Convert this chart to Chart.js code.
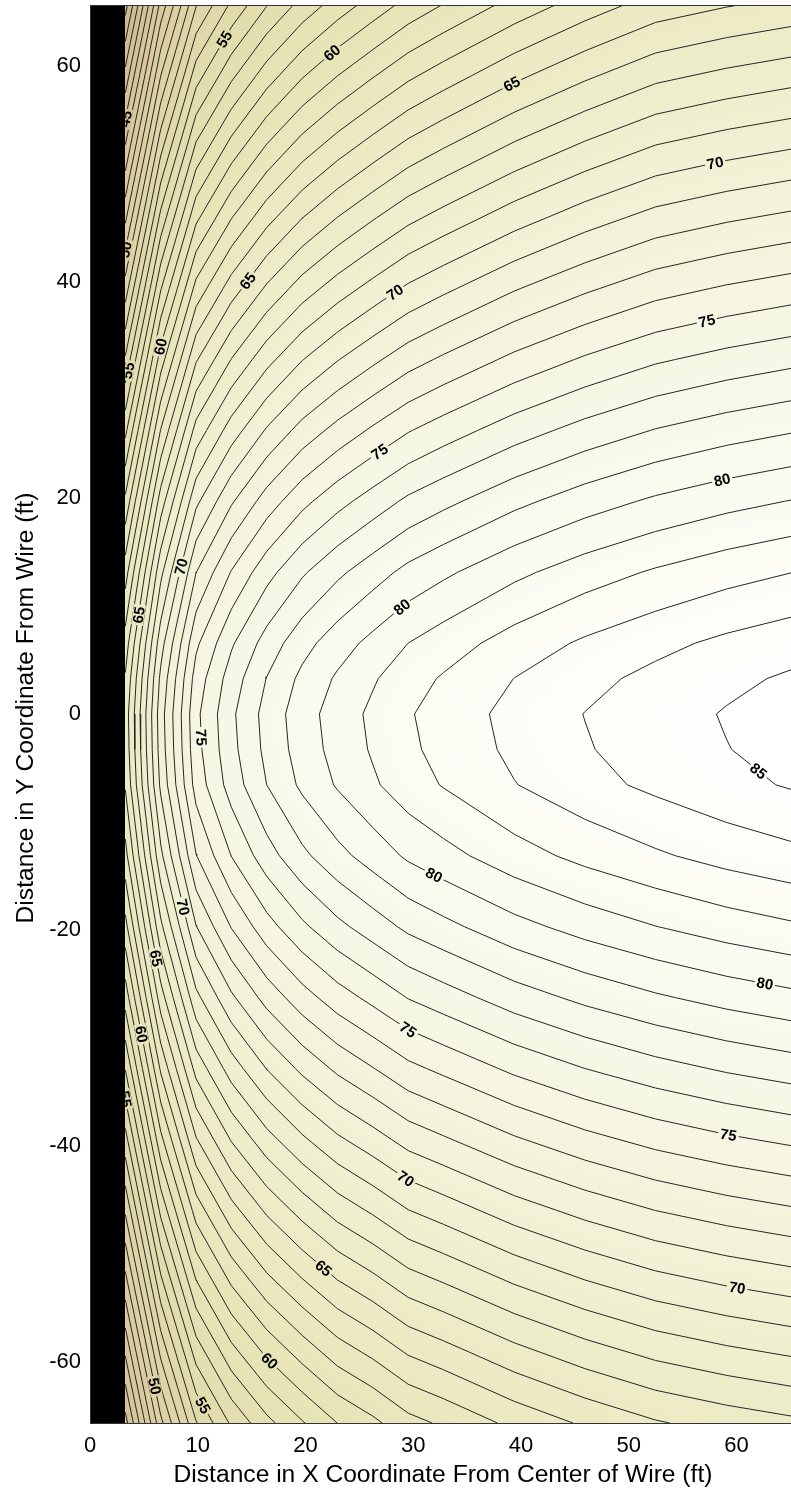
<!DOCTYPE html>
<html>
<head>
<meta charset="utf-8">
<title>Field level around the wire</title>
<script src="https://cdn.jsdelivr.net/npm/chart.js@4.4.1/dist/chart.umd.min.js"></script>
<style>
  html, body { margin: 0; padding: 0; background: #ffffff; overflow: hidden; }
  #box { position: relative; width: 800px; height: 1492px; }
</style>
</head>
<body>
<div id="box"><canvas id="plot" width="800" height="1492"></canvas></div>
<script>
// Grid node positions (ft)
const gridX = [3.28, 6.56, 9.84, 13.12, 16.40, 19.69, 22.97, 26.25, 29.53, 32.81, 39.37, 45.93, 52.49, 59.06, 65.62];
const gridY = [-65.62, -59.06, -52.49, -45.93, -39.37, -32.81, -26.25, -19.69, -13.12, -6.56, -3.28, 0,
               3.28, 6.56, 13.12, 19.69, 26.25, 32.81, 39.37, 45.93, 52.49, 59.06, 65.62];

// Level at each node, one row per gridY entry (bottom row first)
const fieldRows = [
  [43.62, 49.72, 53.92, 56.16, 57.71, 58.91, 60.01, 60.76, 61.66, 62.16, 63.26, 64.15, 64.90, 65.40, 65.80],
  [46.14, 52.24, 56.44, 58.66, 60.21, 61.41, 62.49, 63.24, 64.11, 64.61, 65.68, 66.56, 67.28, 67.78, 68.18],
  [48.66, 54.76, 58.96, 61.16, 62.71, 63.91, 64.96, 65.71, 66.56, 67.06, 68.11, 68.96, 69.66, 70.16, 70.56],
  [51.15, 57.25, 61.45, 63.63, 65.18, 66.38, 67.41, 68.16, 68.98, 69.48, 70.51, 71.33, 72.01, 72.51, 72.91],
  [53.62, 59.72, 63.92, 66.08, 67.63, 68.83, 69.83, 70.58, 71.38, 71.88, 72.88, 73.69, 74.34, 74.84, 75.24],
  [56.05, 62.15, 66.35, 68.48, 70.03, 71.23, 72.21, 72.96, 73.74, 74.24, 75.22, 76.00, 76.63, 77.13, 77.53],
  [58.42, 64.52, 68.72, 70.82, 72.37, 73.57, 74.53, 75.28, 76.04, 76.54, 77.50, 78.25, 78.86, 79.36, 79.76],
  [60.66, 66.76, 70.96, 73.05, 74.60, 75.80, 76.74, 77.49, 78.22, 78.72, 79.66, 80.39, 80.98, 81.48, 81.88],
  [62.66, 68.76, 72.96, 75.02, 76.57, 77.77, 78.69, 79.44, 80.16, 80.66, 81.58, 82.29, 82.86, 83.36, 83.76],
  [64.10, 70.20, 74.40, 76.45, 78.00, 79.20, 80.10, 80.85, 81.56, 82.06, 82.96, 83.67, 84.22, 84.72, 85.12],
  [64.36, 70.46, 74.66, 76.71, 78.26, 79.46, 80.36, 81.11, 81.81, 82.31, 83.22, 83.92, 84.47, 84.97, 85.37],
  [64.46, 70.56, 74.76, 76.81, 78.36, 79.56, 80.46, 81.21, 81.91, 82.41, 83.32, 84.02, 84.57, 85.07, 85.47],
  [64.11, 70.22, 74.43, 76.48, 78.03, 79.24, 80.14, 80.89, 81.60, 82.10, 83.01, 83.71, 84.27, 84.77, 85.17],
  [63.45, 69.58, 73.80, 75.86, 77.42, 78.63, 79.54, 80.29, 81.00, 81.51, 82.43, 83.15, 83.72, 84.22, 84.62],
  [61.56, 67.73, 71.98, 74.06, 75.64, 76.86, 77.79, 78.56, 79.29, 79.81, 80.76, 81.52, 82.12, 82.62, 83.02],
  [59.24, 65.48, 69.77, 71.87, 73.46, 74.71, 75.66, 76.45, 77.20, 77.74, 78.73, 79.53, 80.17, 80.67, 81.07],
  [56.74, 63.04, 67.37, 69.49, 71.11, 72.38, 73.34, 74.16, 74.93, 75.50, 76.53, 77.37, 78.05, 78.55, 78.95],
  [54.14, 60.51, 64.89, 67.03, 68.67, 69.96, 70.95, 71.79, 72.58, 73.17, 74.25, 75.13, 75.86, 76.36, 76.76],
  [51.48, 57.92, 62.35, 64.51, 66.17, 67.49, 68.50, 69.36, 70.18, 70.79, 71.92, 72.84, 73.62, 74.12, 74.52],
  [48.79, 55.30, 59.77, 61.96, 63.65, 64.98, 66.02, 66.91, 67.74, 68.38, 69.55, 70.53, 71.35, 71.85, 72.25],
  [46.08, 52.66, 57.18, 59.39, 61.10, 62.46, 63.52, 64.43, 65.29, 65.95, 67.17, 68.19, 69.06, 69.56, 69.96],
  [43.34, 49.99, 54.56, 56.79, 58.53, 59.91, 61.00, 61.93, 62.81, 63.50, 64.77, 65.83, 66.75, 67.25, 67.65],
  [40.59, 47.32, 51.93, 54.19, 55.95, 57.35, 58.46, 59.42, 60.33, 61.04, 62.35, 63.47, 64.43, 64.93, 65.33]
];

// Contour levels (1 dB apart)
const contourLevels = [40, 41, 42, 43, 44, 45, 46, 47, 48, 49, 50, 51, 52, 53, 54, 55, 56, 57, 58, 59, 60,
  61, 62, 63, 64, 65, 66, 67, 68, 69, 70, 71, 72, 73, 74, 75, 76, 77, 78, 79, 80, 81, 82, 83, 84, 85, 86];

// Inline contour labels: level and approximate place
const labelLevel = [55, 60, 65, 70, 45, 50, 55, 60, 65, 70, 75, 75, 80, 70, 80, 65, 75, 85,
                    80, 70, 65, 80, 75, 60, 55, 75, 70, 65, 70, 60, 50, 55];
const labelX = [12.2, 21.5, 39.1, 57.8, 3.7, 3.7, 4.0, 7.6, 16.2, 29.2, 57.5, 27.8, 58.9, 8.97, 29.2, 4.33, 9.58, 62.2,
                32.2, 8.97, 6.18, 62.9, 29.2, 4.95, 3.4, 59.4, 30.4, 22.7, 59.8, 17.3, 5.57, 10.97];
const labelY = [62.6, 62.3, 58.4, 52.0, 39.0, 34.0, 31.7, 33.8, 38.9, 37.7, 35.3, 22.9, 20.7, 13.5, 9.6, 9.2, -2.2, -5.1,
                -14.4, -17.8, -22.6, -23.6, -29.8, -29.6, -32.8, -38.1, -41.4, -50.1, -54.7, -59.2, -62.3, -63.7];

// Axis ticks
const xTicks = [0, 10, 20, 30, 40, 50, 60];
const yTicks = [-60, -40, -20, 0, 20, 40, 60];

// Colour ramp: level -> rgb
const rampLevel = [40, 45, 50, 55, 60, 65, 70, 75, 80, 84, 86];
const rampR = [205, 214, 221, 226, 231, 236, 241, 246, 250, 254, 255];
const rampG = [182, 196, 209, 220, 229, 235, 241, 246, 250, 254, 255];
const rampB = [140, 152, 163, 172, 183, 197, 212, 227, 239, 250, 255];

function rampColor(v) {
  const n = rampLevel.length;
  if (v <= rampLevel[0]) return [rampR[0], rampG[0], rampB[0]];
  if (v >= rampLevel[n - 1]) return [rampR[n - 1], rampG[n - 1], rampB[n - 1]];
  let k = 0;
  while (v > rampLevel[k + 1]) k++;
  const t = (v - rampLevel[k]) / (rampLevel[k + 1] - rampLevel[k]);
  return [rampR[k] + t * (rampR[k + 1] - rampR[k]),
          rampG[k] + t * (rampG[k + 1] - rampG[k]),
          rampB[k] + t * (rampB[k + 1] - rampB[k])];
}

function locate(arr, v) {
  if (v <= arr[0]) return { i: 0, t: 0 };
  const n = arr.length;
  if (v >= arr[n - 1]) return { i: n - 2, t: 1 };
  let i = 0;
  while (v > arr[i + 1]) i++;
  return { i, t: (v - arr[i]) / (arr[i + 1] - arr[i]) };
}

function fieldAt(x, y) {
  const a = locate(gridX, x), b = locate(gridY, y);
  const z00 = fieldRows[b.i][a.i], z10 = fieldRows[b.i][a.i + 1];
  const z01 = fieldRows[b.i + 1][a.i], z11 = fieldRows[b.i + 1][a.i + 1];
  return (z00 * (1 - a.t) + z10 * a.t) * (1 - b.t) + (z01 * (1 - a.t) + z11 * a.t) * b.t;
}

// Marching squares on the rectilinear grid, segments chained into polylines
function traceLevel(level) {
  const nx = gridX.length, ny = gridY.length;
  const segs = [];
  for (let j = 0; j < ny - 1; j++) {
    for (let i = 0; i < nx - 1; i++) {
      const z00 = fieldRows[j][i], z10 = fieldRows[j][i + 1];
      const z01 = fieldRows[j + 1][i], z11 = fieldRows[j + 1][i + 1];
      const x0 = gridX[i], x1 = gridX[i + 1], y0 = gridY[j], y1 = gridY[j + 1];
      const hits = [];
      const cross = (za, zb, xa, ya, xb, yb, key) => {
        if ((za < level) !== (zb < level)) {
          const t = (level - za) / (zb - za);
          hits.push({ key, x: xa + t * (xb - xa), y: ya + t * (yb - ya) });
        }
      };
      cross(z00, z10, x0, y0, x1, y0, 'h' + j + '_' + i);
      cross(z10, z11, x1, y0, x1, y1, 'v' + j + '_' + (i + 1));
      cross(z01, z11, x0, y1, x1, y1, 'h' + (j + 1) + '_' + i);
      cross(z00, z01, x0, y0, x0, y1, 'v' + j + '_' + i);
      if (hits.length === 2) segs.push([hits[0], hits[1]]);
      else if (hits.length === 4) {
        const c = (z00 + z10 + z01 + z11) / 4;
        if ((c < level) === (z00 < level)) { segs.push([hits[0], hits[1]]); segs.push([hits[2], hits[3]]); }
        else { segs.push([hits[0], hits[3]]); segs.push([hits[1], hits[2]]); }
      }
    }
  }
  const byKey = {};
  segs.forEach((s, n) => s.forEach(p => { (byKey[p.key] = byKey[p.key] || []).push(n); }));
  const used = new Array(segs.length).fill(false);
  const lines = [];
  const extend = (arr) => {
    for (;;) {
      const last = arr[arr.length - 1];
      const cand = (byKey[last.key] || []).find(m => !used[m]);
      if (cand === undefined) break;
      used[cand] = true;
      const s = segs[cand];
      arr.push(s[0].key === last.key ? s[1] : s[0]);
    }
  };
  for (let n = 0; n < segs.length; n++) {
    if (used[n]) continue;
    used[n] = true;
    const line = [segs[n][0], segs[n][1]];
    extend(line);
    line.reverse();
    extend(line);
    lines.push(line);
  }
  return lines;
}

const contourLines = {};
const datasets = [];
contourLevels.forEach(level => {
  const lines = traceLevel(level);
  contourLines[level] = lines;
  lines.forEach(line => {
    datasets.push({
      label: String(level),
      data: line.map(p => ({ x: p.x, y: p.y })),
      showLine: true,
      borderColor: '#262626',
      borderWidth: 1,
      pointRadius: 0,
      tension: 0,
      fill: false
    });
  });
});

const FONT = '"Liberation Sans", Arial, Helvetica, sans-serif';

// Filled field under the contour lines; the strip next to the wire stays black
const fieldFill = {
  id: 'fieldFill',
  beforeDatasetsDraw(chart) {
    const { ctx, chartArea: a, scales } = chart;
    const sx = scales.x, sy = scales.y;
    const left = Math.round(a.left), top = Math.round(a.top);
    const w = Math.round(a.right) - left, h = Math.round(a.bottom) - top;
    const img = ctx.createImageData(w, h);
    const xs = [];
    for (let px = 0; px < w; px++) xs.push(sx.getValueForPixel(left + px + 0.5));
    for (let py = 0; py < h; py++) {
      const yv = sy.getValueForPixel(top + py + 0.5);
      for (let px = 0; px < w; px++) {
        const o = (py * w + px) * 4;
        const xv = xs[px];
        if (xv < gridX[0]) {
          img.data[o] = 0; img.data[o + 1] = 0; img.data[o + 2] = 0; img.data[o + 3] = 255;
          continue;
        }
        const c = rampColor(fieldAt(xv, yv));
        img.data[o] = c[0]; img.data[o + 1] = c[1]; img.data[o + 2] = c[2]; img.data[o + 3] = 255;
      }
    }
    ctx.putImageData(img, left, top);
  }
};

// Inline level labels, set on their contour and turned along it
const contourLabels = {
  id: 'contourLabels',
  afterDatasetsDraw(chart) {
    const { ctx, chartArea: a, scales } = chart;
    const sx = scales.x, sy = scales.y;
    const wireEdge = sx.getPixelForValue(gridX[0]);
    ctx.save();
    ctx.beginPath();
    ctx.rect(wireEdge, a.top, a.right - wireEdge, a.bottom - a.top);
    ctx.clip();
    ctx.font = 'bold 15px ' + FONT;
    ctx.textAlign = 'center';
    ctx.textBaseline = 'middle';
    labelLevel.forEach((level, n) => {
      const tx = sx.getPixelForValue(labelX[n]), ty = sy.getPixelForValue(labelY[n]);
      let best = null;
      (contourLines[level] || []).forEach(line => {
        for (let k = 0; k < line.length - 1; k++) {
          const ax = sx.getPixelForValue(line[k].x), ay = sy.getPixelForValue(line[k].y);
          const bx = sx.getPixelForValue(line[k + 1].x), by = sy.getPixelForValue(line[k + 1].y);
          const dx = bx - ax, dy = by - ay;
          const len2 = dx * dx + dy * dy || 1;
          let t = ((tx - ax) * dx + (ty - ay) * dy) / len2;
          t = Math.max(0, Math.min(1, t));
          const px = ax + t * dx, py = ay + t * dy;
          const d = (px - tx) * (px - tx) + (py - ty) * (py - ty);
          if (!best || d < best.d) best = { d, px, py, ang: Math.atan2(dy, dx) };
        }
      });
      if (!best) return;
      let ang = best.ang;
      if (ang > Math.PI / 2) ang -= Math.PI;
      if (ang < -Math.PI / 2) ang += Math.PI;
      const text = String(level);
      const tw = ctx.measureText(text).width;
      const c = rampColor(level);
      ctx.save();
      ctx.translate(best.px, best.py);
      ctx.rotate(ang);
      ctx.fillStyle = 'rgb(' + c.map(Math.round).join(',') + ')';
      ctx.fillRect(-tw / 2 - 2, -6, tw + 4, 12);
      ctx.fillStyle = '#000000';
      ctx.fillText(text, 0, 1);
      ctx.restore();
    });
    ctx.restore();
  }
};

// Axis titles and the top edge of the frame
const axisTitles = {
  id: 'axisTitles',
  afterDraw(chart) {
    const { ctx, chartArea: a } = chart;
    ctx.save();
    ctx.strokeStyle = '#333333';
    ctx.lineWidth = 1;
    ctx.beginPath();
    ctx.moveTo(a.left, a.top + 0.5);
    ctx.lineTo(a.right, a.top + 0.5);
    ctx.stroke();
    ctx.fillStyle = '#000000';
    ctx.font = '23px ' + FONT;
    ctx.textAlign = 'center';
    ctx.textBaseline = 'alphabetic';
    ctx.save();
    ctx.translate(443, 1482);
    ctx.scale(1.07, 1);
    ctx.fillText('Distance in X Coordinate From Center of Wire (ft)', 0, 0);
    ctx.restore();
    ctx.save();
    ctx.translate(33, 708);
    ctx.rotate(-Math.PI / 2);
    ctx.scale(1.07, 1);
    ctx.fillText('Distance in Y Coordinate From Wire (ft)', 0, 0);
    ctx.restore();
    ctx.restore();
  }
};

new Chart(document.getElementById('plot'), {
  type: 'scatter',
  data: { datasets },
  options: {
    responsive: false,
    animation: false,
    devicePixelRatio: 1,
    events: [],
    layout: { padding: { top: 5, right: 3, left: 0, bottom: 0 } },
    plugins: { legend: { display: false }, tooltip: { enabled: false }, title: { display: false } },
    scales: {
      x: {
        type: 'linear', min: 0, max: 65.62,
        afterFit(scale) {
          scale.height = 69;
          scale.paddingLeft = 0; scale.paddingRight = 0;
        },
        afterBuildTicks(scale) { scale.ticks = xTicks.map(v => ({ value: v })); },
        grid: { display: false, drawTicks: false },
        border: { display: true, color: '#333333', width: 1, z: 1 },
        ticks: { autoSkip: false, maxRotation: 0, padding: 10, color: '#000000', font: { family: FONT, size: 22 } }
      },
      y: {
        type: 'linear', min: -65.62, max: 65.62,
        afterFit(scale) {
          scale.width = 90;
          scale.paddingTop = 0; scale.paddingBottom = 0;
        },
        afterBuildTicks(scale) { scale.ticks = yTicks.map(v => ({ value: v })); },
        grid: { display: false, drawTicks: false },
        border: { display: true, color: '#333333', width: 1, z: 1 },
        ticks: { autoSkip: false, padding: 9, color: '#000000', font: { family: FONT, size: 22 } }
      }
    }
  },
  plugins: [fieldFill, contourLabels, axisTitles]
});
</script>
</body>
</html>
